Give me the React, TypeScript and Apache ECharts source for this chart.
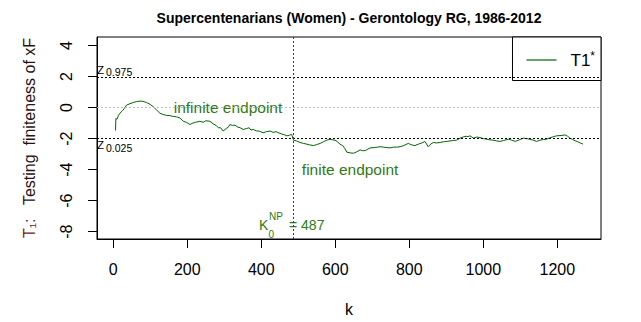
import React, { useEffect, useRef } from 'react';
import * as echarts from 'echarts';

const kValues = [
  6, 7, 10, 14, 18, 25, 30, 36, 45, 54, 62, 72, 80, 90, 100, 108, 117, 126, 135, 144,
  153, 162, 171, 180, 189, 198, 207, 215, 222, 234, 243, 250, 261, 270, 278, 284, 290, 297, 305, 311,
  315, 322, 329, 336, 343, 351, 360, 367, 372, 378, 387, 395, 405, 414, 424, 432, 440, 446, 455, 462,
  469, 476, 482, 487, 495, 505, 514, 522, 530, 541, 550, 559, 568, 577, 586, 593, 599, 606, 612, 620,
  626, 631, 640, 649, 658, 667, 674, 681, 688, 694, 705, 714, 721, 730, 740, 748, 757, 766, 775, 785,
  797, 806, 815, 825, 834, 842, 851, 858, 865, 874, 883, 892, 901, 910, 920, 928, 937, 946, 954, 959,
  964, 973, 982, 991, 1000, 1009, 1018, 1027, 1036, 1045, 1055, 1068, 1077, 1086, 1095, 1108, 1117, 1126, 1135, 1144,
  1153, 1162, 1171, 1180, 1189, 1198, 1210, 1221, 1228, 1234, 1241, 1248, 1255, 1262, 1269
];
const t1Values = [
  -1.47, -0.7, -0.75, -0.5, -0.36, -0.2, -0.05, 0.16, 0.25, 0.33, 0.38, 0.42, 0.4, 0.33, 0.2, 0.06, -0.15, -0.36, -0.45, -0.5,
  -0.52, -0.57, -0.6, -0.67, -0.88, -0.95, -1.09, -1.0, -0.95, -0.88, -0.95, -0.85, -0.88, -1.05, -1.15, -1.3, -1.3, -1.51, -1.35, -1.26,
  -1.09, -1.15, -1.13, -1.25, -1.3, -1.41, -1.35, -1.3, -1.45, -1.41, -1.5, -1.52, -1.62, -1.55, -1.51, -1.6, -1.55, -1.62, -1.7, -1.75,
  -1.82, -1.78, -1.72, -2.1, -2.15, -2.25, -2.31, -2.35, -2.4, -2.45, -2.38, -2.31, -2.2, -2.1, -2.04, -2.08, -2.1, -2.2, -2.35, -2.45,
  -2.65, -2.87, -2.92, -2.94, -2.85, -2.73, -2.78, -2.77, -2.68, -2.6, -2.58, -2.55, -2.52, -2.55, -2.58, -2.6, -2.55, -2.55, -2.52, -2.45,
  -2.31, -2.4, -2.45, -2.35, -2.28, -2.18, -2.52, -2.35, -2.25, -2.28, -2.25, -2.2, -2.18, -2.15, -2.12, -2.1, -1.97, -1.89, -1.85, -1.87,
  -1.82, -1.97, -1.9, -1.93, -2.0, -2.04, -2.08, -2.1, -2.15, -2.18, -2.12, -2.04, -2.1, -2.18, -2.1, -1.97, -2.0, -2.04, -2.1, -2.18,
  -2.1, -2.06, -2.04, -1.95, -1.88, -1.82, -1.8, -1.76, -1.85, -1.97, -2.05, -2.14, -2.2, -2.28, -2.35
];
const xTicks = [0, 200, 400, 600, 800, 1000, 1200];
const yTicks = [-8, -6, -4, -2, 0, 2, 4];
const zUpper = 1.96;
const zLower = -1.96;
const k0 = 487;

const FONT = "'Liberation Sans', Arial, sans-serif";
const GREEN = '#006400';
const TEXT_GREEN = '#2f7a12';

const refLine = (name: string, item: any, color: string) => ({
  name, type: 'line', data: [], silent: true,
  markLine: {
    silent: true, symbol: ['none', 'none'], label: { show: false },
    lineStyle: { color, type: [2, 2], width: 1 },
    emphasis: { disabled: true },
    data: [item],
  },
});

export default function App() {
  const ref = useRef<HTMLDivElement>(null);
  useEffect(() => {
    const chart = echarts.init(ref.current!, null, { renderer: 'svg' });
    const data = kValues.map((k, i) => [k, t1Values[i]]);
    chart.setOption({
      animation: false,
      backgroundColor: '#fff',
      title: {
        text: 'Supercentenarians (Women) - Gerontology RG, 1986-2012',
        left: 349,
        textAlign: 'center',
        top: 11,
        padding: 0,
        textStyle: { fontSize: 14, fontWeight: 'bold', color: '#000', fontFamily: FONT },
      },
      grid: {
        left: 97, right: 40, top: 37, bottom: 78,
        show: true, borderColor: '#000', borderWidth: 1, backgroundColor: 'transparent',
      },
      legend: {
        right: 40, top: 37, orient: 'vertical',
        backgroundColor: '#fff', borderColor: '#000', borderWidth: 1, borderRadius: 0,
        padding: [13, 6, 12, 14],
        itemWidth: 30, itemHeight: 1.2,
        data: [{ name: 'T1*', icon: 'rect' }],
        formatter: () => 'T1{s|*}',
        textStyle: {
          fontSize: 17, color: '#000', fontFamily: FONT, padding: [0, 0, 0, 9],
          rich: { s: { fontSize: 12, color: '#000', fontFamily: FONT, padding: [0, 0, 8, 0] } },
        },
      },
      xAxis: {
        type: 'value', min: -44, max: 1318,
        axisLine: { show: true, onZero: false, lineStyle: { color: '#000', width: 1 } },
        axisTick: { show: true, customValues: xTicks, length: 9, lineStyle: { color: '#000' } },
        axisLabel: {
          customValues: xTicks, fontSize: 16, color: '#000', margin: 22, fontFamily: FONT,
          formatter: (v: number) => String(v),
        },
        splitLine: { show: false },
        name: 'k', nameLocation: 'middle', nameGap: 62,
        nameTextStyle: { fontSize: 16, color: '#000', fontFamily: FONT },
      },
      yAxis: {
        type: 'value', min: -8.47, max: 4.55,
        axisLine: { show: true, onZero: false, lineStyle: { color: '#000', width: 1 } },
        axisTick: { show: true, customValues: yTicks, length: 9, lineStyle: { color: '#000' } },
        axisLabel: {
          customValues: yTicks, fontSize: 16, color: '#000', margin: 23, rotate: 90, fontFamily: FONT,
          formatter: (v: number) => String(v),
        },
        splitLine: { show: false },
        name: '{t|T₁:}   {r|Testing  finiteness of xF}',
        nameLocation: 'middle', nameRotate: 90, nameGap: 60,
        nameTextStyle: {
          fontSize: 16, fontFamily: FONT,
          rich: {
            t: { fontSize: 16, color: '#7a1414', fontFamily: FONT },
            r: { fontSize: 16, color: '#2a1010', fontFamily: FONT },
          },
        },
      },
      series: [
        refLine('zUp', { yAxis: zUpper }, '#000'),
        refLine('zLo', { yAxis: zLower }, '#000'),
        refLine('zero', { yAxis: 0 }, '#bdbdbd'),
        refLine('k0', { xAxis: k0 }, GREEN),
        {
          name: 'T1*', type: 'line', data, symbol: 'none', showSymbol: false,
          lineStyle: { color: GREEN, width: 1 }, itemStyle: { color: GREEN },
        },
      ],
    });

    const p = (x: number, y: number) => chart.convertToPixel({ gridIndex: 0 }, [x, y]) as number[];
    const left = p(-44, 0)[0];
    const up = p(0, zUpper)[1];
    const lo = p(0, zLower)[1];
    const inf = p(310, 0);
    const fin = p(640, -4);
    const kk = p(k0, -7.56);
    const txt = (x: number, y: number, text: string, size: number, color: string, align = 'left', lh = size) => ({
      type: 'text', x, y, silent: true,
      style: { text, fontSize: size, lineHeight: lh, fill: color, fontFamily: FONT, align, verticalAlign: 'middle' },
    });
    chart.setOption({
      graphic: [
        txt(left, up - 7, 'Z', 11.5, '#000'),
        txt(left + 9, up - 5, '0.975', 10.5, '#000'),
        txt(left, lo + 7, 'Z', 11.5, '#000'),
        txt(left + 9, lo + 10, '0.025', 10.5, '#000'),
        txt(inf[0], inf[1], 'infinite endpoint', 15.5, TEXT_GREEN, 'center'),
        txt(fin[0], fin[1], 'finite endpoint', 15.5, TEXT_GREEN, 'center'),
        txt(kk[0] - 34.5, kk[1], 'K', 14, TEXT_GREEN, 'left', 11),
        txt(kk[0] - 25, kk[1] + 10, '0', 10, TEXT_GREEN, 'left', 8),
        txt(kk[0] - 24.5, kk[1] - 8, 'NP', 10, TEXT_GREEN, 'left', 8),
        txt(kk[0] - 4.5, kk[1], '= 487', 14, TEXT_GREEN, 'left', 12),
      ],
    });
    return () => chart.dispose();
  }, []);
  return (
    <div
      ref={ref}
      style={{ position: 'fixed', left: 0, top: 0, width: 641, height: 322, background: '#fff' }}
    />
  );
}
